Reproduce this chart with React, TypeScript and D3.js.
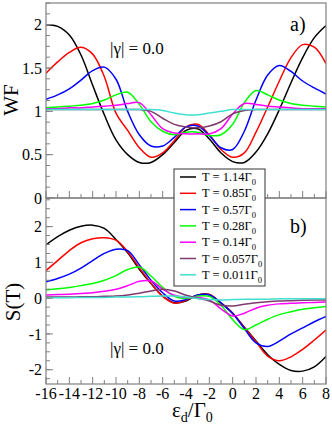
import React from "react";
import * as d3 from "d3";

// detuning grid eps_d / Gamma_0
const eps = [-16, -15, -14, -13, -12, -11, -10, -9, -8, -7, -6, -5, -4, -3, -2, -1, 0, 1, 2, 3, 4, 5, 6, 7, 8];

const temps = ["1.14", "0.85", "0.57", "0.28", "0.14", "0.057", "0.011"];
const colors = ["#000000", "#ff0000", "#0000ff", "#00ff00", "#ff00ff", "#7e3a6e", "#40e0d0"];

// panel a) WF
const wf114 = [2.0, 1.98, 1.88, 1.65, 1.3, 0.96, 0.67, 0.5, 0.41, 0.41, 0.5, 0.64, 0.78, 0.8, 0.68, 0.52, 0.42, 0.41, 0.53, 0.74, 1.02, 1.33, 1.62, 1.85, 1.99];
const wf085 = [1.44, 1.57, 1.68, 1.74, 1.66, 1.4, 0.98, 0.78, 0.58, 0.47, 0.52, 0.66, 0.82, 0.85, 0.73, 0.56, 0.47, 0.52, 0.76, 1.05, 1.35, 1.62, 1.77, 1.74, 1.55];
const wf057 = [1.14, 1.19, 1.26, 1.36, 1.47, 1.51, 1.37, 1.0, 0.73, 0.6, 0.6, 0.7, 0.82, 0.83, 0.72, 0.58, 0.56, 0.77, 1.13, 1.42, 1.53, 1.46, 1.35, 1.27, 1.2];
const wf028 = [1.04, 1.05, 1.06, 1.07, 1.09, 1.13, 1.19, 1.22, 1.08, 0.88, 0.77, 0.73, 0.76, 0.76, 0.72, 0.73, 0.85, 1.1, 1.24, 1.19, 1.13, 1.09, 1.07, 1.06, 1.05];
const wf014 = [1.03, 1.03, 1.04, 1.04, 1.05, 1.06, 1.07, 1.09, 1.1, 0.96, 0.8, 0.75, 0.74, 0.74, 0.74, 0.8, 0.97, 1.09, 1.08, 1.06, 1.05, 1.04, 1.03, 1.03, 1.03];
const wf0057 = [1.02, 1.02, 1.02, 1.02, 1.02, 1.02, 1.02, 1.02, 1.02, 1.0, 0.92, 0.85, 0.82, 0.81, 0.83, 0.88, 0.97, 1.01, 1.02, 1.02, 1.02, 1.02, 1.02, 1.02, 1.02];
const wf0011 = [1.02, 1.02, 1.02, 1.02, 1.02, 1.02, 1.02, 1.02, 1.02, 1.02, 1.01, 0.98, 0.96, 0.96, 0.98, 1.0, 1.02, 1.02, 1.02, 1.02, 1.02, 1.02, 1.02, 1.02, 1.02];

// panel b) S(T)
const s114 = [1.49, 1.72, 1.9, 2.01, 2.04, 1.95, 1.64, 1.27, 0.81, 0.41, 0.06, -0.13, -0.08, 0.08, 0.1, -0.14, -0.42, -0.81, -1.2, -1.58, -1.85, -2.02, -2.04, -1.92, -1.63];
const s085 = [0.77, 1.05, 1.33, 1.55, 1.66, 1.69, 1.62, 1.3, 0.85, 0.42, 0.05, -0.14, -0.06, 0.09, 0.1, -0.14, -0.42, -0.82, -1.22, -1.62, -1.75, -1.64, -1.43, -1.17, -0.89];
const s057 = [0.46, 0.55, 0.67, 0.84, 1.05, 1.25, 1.37, 1.33, 0.93, 0.5, 0.15, -0.08, -0.04, 0.09, 0.09, -0.13, -0.43, -0.85, -1.25, -1.35, -1.2, -1.0, -0.83, -0.66, -0.51];
const s028 = [0.23, 0.26, 0.3, 0.35, 0.41, 0.5, 0.63, 0.8, 0.87, 0.62, 0.3, 0.05, -0.01, 0.06, 0.05, -0.2, -0.6, -0.88, -0.75, -0.59, -0.46, -0.38, -0.31, -0.27, -0.23];
const s014 = [0.09, 0.1, 0.11, 0.13, 0.15, 0.19, 0.25, 0.35, 0.47, 0.48, 0.25, 0.08, 0.02, 0.02, -0.05, -0.3, -0.5, -0.42, -0.28, -0.2, -0.16, -0.14, -0.13, -0.12, -0.11];
const s0057 = [0.03, 0.03, 0.03, 0.04, 0.04, 0.05, 0.06, 0.09, 0.14, 0.2, 0.25, 0.2, 0.08, 0.0, -0.08, -0.2, -0.22, -0.17, -0.13, -0.1, -0.08, -0.07, -0.06, -0.05, -0.05];
const s0011 = [0.01, 0.01, 0.01, 0.02, 0.02, 0.02, 0.03, 0.03, 0.04, 0.05, 0.06, 0.06, 0.03, -0.01, -0.04, -0.05, -0.04, -0.03, -0.03, -0.03, -0.02, -0.02, -0.02, -0.02, -0.02];

const wfSeries = [wf114, wf085, wf057, wf028, wf014, wf0057, wf0011];
const sSeries = [s114, s085, s057, s028, s014, s0057, s0011];

const xMajor = [-16, -14, -12, -10, -8, -6, -4, -2, 0, 2, 4, 6, 8];
const wfMajor = [0, 0.5, 1, 1.5, 2];
const sMajor = [-2, -1, 0, 1, 2];

const FONT = "'Liberation Serif', 'Times New Roman', serif";
const AXIS = "#808080";

const left = 46, right = 326;
const x = d3.scaleLinear().domain([-16, 8]).range([left, right]);
const yA = d3.scaleLinear().domain([0, 2.25]).range([198, 3]);
const yB = d3.scaleLinear().domain([-2.4, 2.8]).range([384, 198]);

function Panel({ y, series, major, minorStep, id }: any) {
  const [y0, y1] = y.range();
  const line = d3
    .line<number>()
    .x((_, i) => x(eps[i]))
    .y((d) => y(d))
    .curve(d3.curveCatmullRom.alpha(0.5));
  const [d0, d1] = y.domain();
  const minor = d3.range(Math.ceil(d0 / minorStep) * minorStep, d1 + 1e-6, minorStep);
  const xMinor = d3.range(-16, 8.01, 1);
  return (
    <g>
      <defs>
        <clipPath id={id}>
          <rect x={left} y={y1} width={right - left} height={y0 - y1} />
        </clipPath>
      </defs>
      <g clipPath={`url(#${id})`}>
        {series.map((s: number[], i: number) => (
          <path key={i} d={line(s) || ""} fill="none" stroke={colors[i]} strokeWidth={1.5} />
        ))}
      </g>
      <rect x={left} y={y1} width={right - left} height={y0 - y1} fill="none" stroke={AXIS} strokeWidth={1.2} />
      {minor.map((v: number) => (
        <line key={"ym" + v} x1={left} x2={left + 4} y1={y(v)} y2={y(v)} stroke={AXIS} />
      ))}
      {major.map((v: number) => (
        <line key={"yM" + v} x1={left} x2={left + 7} y1={y(v)} y2={y(v)} stroke={AXIS} />
      ))}
      {xMinor.map((v: number) => (
        <line key={"xm" + v} x1={x(v)} x2={x(v)} y1={y0} y2={y0 - (v % 2 === 0 ? 7 : 4)} stroke={AXIS} />
      ))}
      {major.map((v: number) => (
        <text key={"yl" + v} x={42} y={y(v)} dy="0.35em" textAnchor="end" fontSize={16} fontFamily={FONT}>
          {String(v)}
        </text>
      ))}
    </g>
  );
}

export default function App() {
  const rowY = (i: number) => 177 + i * 16.3;
  return (
    <svg width={332} height={432} style={{ position: "absolute", left: 0, top: 0, background: "#fff" }}>
      <Panel y={yA} series={wfSeries} major={wfMajor} minorStep={0.125} id="clipA" />
      <Panel y={yB} series={sSeries} major={sMajor} minorStep={0.25} id="clipB" />

      {xMajor.map((v) => (
        <text key={"xl" + v} x={x(v)} y={399} textAnchor="middle" fontSize={16} fontFamily={FONT}>
          {String(v)}
        </text>
      ))}

      <text transform="translate(18,100) rotate(-90)" textAnchor="middle" fontSize={21} fontFamily={FONT}>
        WF
      </text>
      <text transform="translate(20,302) rotate(-90)" textAnchor="middle" fontSize={21} fontFamily={FONT}>
        S(T)
      </text>

      <text x={110} y={54} fontSize={17} fontFamily={FONT}>|γ| = 0.0</text>
      <text x={110} y={354} fontSize={17} fontFamily={FONT}>|γ| = 0.0</text>
      <text x={290} y={31} fontSize={20} fontFamily={FONT}>a)</text>
      <text x={290} y={233} fontSize={20} fontFamily={FONT}>b)</text>

      <text x={172} y={417} fontSize={21} fontFamily={FONT}>
        ε<tspan fontSize={14} dy={5}>d</tspan>
        <tspan dy={-5}>/Γ</tspan>
        <tspan fontSize={14} dy={5}>0</tspan>
      </text>

      <rect x={174} y={169} width={91} height={117} fill="#fff" stroke="#333" strokeWidth={1} />
      {temps.map((t, i) => (
        <g key={t}>
          <line x1={180} x2={196} y1={rowY(i)} y2={rowY(i)} stroke={colors[i]} strokeWidth={1.5} />
          <text x={202} y={rowY(i) + 4} fontSize={12.5} fontFamily={FONT}>
            T = {t}Γ<tspan fontSize={8.5} dy={4}>0</tspan>
          </text>
        </g>
      ))}
    </svg>
  );
}
